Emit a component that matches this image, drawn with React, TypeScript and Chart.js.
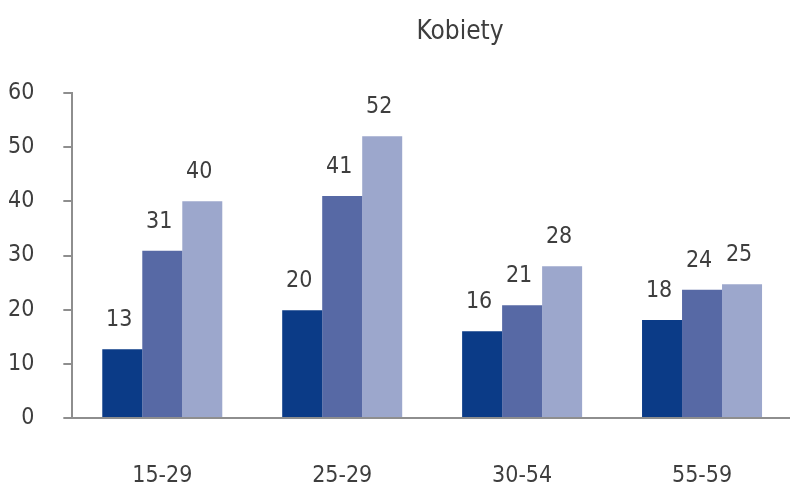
import React, { useEffect, useRef } from "react";
import { Chart, registerables } from "chart.js";

Chart.register(...registerables);

const categories = ["15-29", "25-29", "30-54", "55-59"];
const seriesDark = [12.7, 19.9, 16.0, 18.1];
const seriesMid = [30.9, 41.0, 20.8, 23.7];
const seriesLight = [40.0, 52.0, 28.0, 24.7];
const yTicks = [0, 10, 20, 30, 40, 50, 60];
const title = "Kobiety";

const FONT = "'Liberation Sans Narrow', 'DejaVu Sans Condensed', 'Open Sans', sans-serif";
const TEXT = "#3e3e3e";
const AXIS = "#8e8e8e";
const FS = 23;

const labelPlugin = {
  id: "barLabels",
  afterDatasetsDraw(chart: any) {
    const ctx = chart.ctx;
    ctx.save();
    ctx.font = `${FS}px ${FONT}`;
    ctx.fillStyle = TEXT;
    ctx.textAlign = "center";
    ctx.textBaseline = "alphabetic";
    chart.data.datasets.forEach((ds: any, i: number) => {
      const meta = chart.getDatasetMeta(i);
      meta.data.forEach((bar: any, j: number) => {
        const v = Math.round(ds.data[j]);
        ctx.fillText(String(v), bar.x - 3, bar.y - 23);
      });
    });
    ctx.restore();
  },
};

const titlePlugin = {
  id: "customTitle",
  afterDraw(chart: any) {
    const ctx = chart.ctx;
    ctx.save();
    ctx.font = `26px ${FONT}`;
    ctx.fillStyle = TEXT;
    ctx.textAlign = "center";
    ctx.textBaseline = "alphabetic";
    ctx.fillText(title, 460, 39);
    ctx.restore();
  },
};

export default function App() {
  const ref = useRef<HTMLCanvasElement>(null);
  useEffect(() => {
    if (!ref.current) return;
    const chart = new Chart(ref.current, {
      type: "bar",
      data: {
        labels: categories,
        datasets: [
          { data: seriesDark, backgroundColor: "#0b3b87" },
          { data: seriesMid, backgroundColor: "#5769a5" },
          { data: seriesLight, backgroundColor: "#9ca7cc" },
        ],
      },
      options: {
        responsive: true,
        maintainAspectRatio: false,
        animation: false,
        devicePixelRatio: 1,
        layout: { padding: { left: 8, top: 93, right: 0, bottom: 7 } },
        plugins: {
          legend: { display: false },
          title: { display: false },
          tooltip: { enabled: false },
        },
        datasets: {
          bar: { barPercentage: 1, categoryPercentage: 0.667 },
        },
        scales: {
          x: {
            grid: { display: false, drawTicks: false },
            border: { display: true, color: AXIS, width: 2 },
            afterFit: (axis: any) => {
              axis.height -= axis.options.ticks.padding;
            },
            ticks: {
              padding: 47,
              color: TEXT,
              maxRotation: 0,
              font: { family: FONT, size: FS, lineHeight: 1 },
            },
          },
          y: {
            min: 0,
            max: 60,
            afterBuildTicks: (axis: any) => {
              axis.ticks = yTicks.map((v) => ({ value: v }));
            },
            afterFit: (axis: any) => {
              axis.width -= axis.options.ticks.padding;
            },
            grid: {
              drawOnChartArea: false,
              drawTicks: true,
              tickLength: 9,
              color: AXIS,
              lineWidth: 2,
            },
            border: { display: true, color: AXIS, width: 2 },
            ticks: {
              padding: 29,
              color: TEXT,
              font: { family: FONT, size: FS, lineHeight: 1 },
            },
          },
        },
      },
      plugins: [labelPlugin, titlePlugin],
    });
    return () => chart.destroy();
  }, []);
  return (
    <div style={{ position: "fixed", left: 0, top: 0, width: 792, height: 495, background: "#fff" }}>
      <canvas ref={ref} style={{ display: "block" }} />
    </div>
  );
}
